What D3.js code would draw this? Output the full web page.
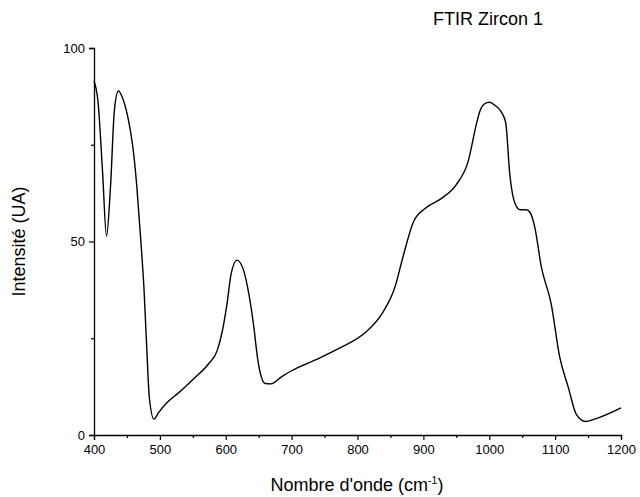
<!DOCTYPE html>
<html>
<head>
<meta charset="utf-8">
<script src="https://cdn.jsdelivr.net/npm/d3@7"></script>
<style>
  body { margin: 0; background: #fff; }
  svg text { font-family: "Liberation Sans", Arial, sans-serif; fill: #000; }
</style>
</head>
<body>
<div id="chart"></div>
<script>
// Spectre FTIR (nombre d'onde en cm-1, intensité en UA)
const wavenumbers = [400, 406, 413, 419, 425, 431, 437, 445, 454, 460, 465, 471, 476, 480, 484, 491, 498, 511, 529, 551, 574, 587, 595, 602, 608, 617, 627, 635, 642, 649, 655, 660, 668, 685, 700, 736, 771, 814, 837, 857, 869, 885, 903, 928, 950, 968, 981, 986, 993, 1000, 1010, 1019, 1025, 1031, 1039, 1047, 1056, 1062, 1069, 1079, 1094, 1107, 1120, 1132, 1146, 1160, 1200];
const intensities = [91.5, 86.3, 68, 51.4, 64, 84, 88.9, 86.3, 79.8, 73, 64.2, 50.4, 37.4, 22.7, 9.7, 4.1, 5.8, 8.4, 11, 14.5, 18.4, 21.8, 27, 34, 41.5, 45.2, 42.6, 36.5, 28.7, 19, 14.5, 13.3, 13.2, 15.1, 16.6, 19.4, 22.3, 26.8, 31.3, 38.3, 46, 55.1, 58.6, 61.2, 64.7, 70.7, 80.7, 83.8, 85.6, 86, 85, 83.3, 80.7, 67.7, 59.9, 58.2, 58.2, 57.5, 53.8, 43.5, 33.9, 20.1, 12.3, 5.4, 3.5, 4.1, 7];

const xMajorTicks = [400, 500, 600, 700, 800, 900, 1000, 1100, 1200];
const xMinorTicks = [450, 550, 650, 750, 850, 950, 1050, 1150];
const yMajorTicks = [0, 50, 100];
const yMinorTicks = [25, 75];

const width = 640;
const height = 497;
const margin = { top: 48, right: 19, bottom: 62, left: 94 };

const svg = d3.select("#chart")
    .append("svg")
    .attr("width", width)
    .attr("height", height);

const x = d3.scaleLinear()
    .domain([400, 1200])
    .range([margin.left, width - margin.right]);

const y = d3.scaleLinear()
    .domain([0, 100])
    .range([height - margin.bottom, margin.top]);

const data = wavenumbers.map((w, i) => ({ w, v: intensities[i] }));

// axes (majeures + mineures)
svg.append("g")
    .attr("transform", `translate(0, ${y(0)})`)
    .call(d3.axisBottom(x).tickValues(xMajorTicks).tickSize(5).tickPadding(5).tickFormat(d3.format("d")));
svg.append("g")
    .attr("transform", `translate(0, ${y(0)})`)
    .call(d3.axisBottom(x).tickValues(xMinorTicks).tickSize(3).tickFormat(""))
    .select(".domain").remove();

svg.append("g")
    .attr("transform", `translate(${x(400)}, 0)`)
    .call(d3.axisLeft(y).tickValues(yMajorTicks).tickSize(5).tickPadding(4));
svg.append("g")
    .attr("transform", `translate(${x(400)}, 0)`)
    .call(d3.axisLeft(y).tickValues(yMinorTicks).tickSize(3).tickFormat(""))
    .select(".domain").remove();

svg.selectAll(".domain").attr("stroke", "#000").attr("stroke-width", 1.3);
svg.selectAll(".tick line").attr("stroke", "#000").attr("stroke-width", 1.2);
svg.selectAll(".tick text").attr("font-size", "13px").attr("font-family", "Liberation Sans, Arial, sans-serif");

// spectre
const line = d3.line()
    .x(d => x(d.w))
    .y(d => y(d.v))
    .curve(d3.curveMonotoneX);

svg.append("path")
    .datum(data)
    .attr("fill", "none")
    .attr("stroke", "#000")
    .attr("stroke-width", 1.4)
    .attr("d", line);

// titres
svg.append("text")
    .attr("x", 488)
    .attr("y", 25)
    .attr("text-anchor", "middle")
    .attr("font-size", "18px")
    .text("FTIR Zircon 1");

const xLabel = svg.append("text")
    .attr("x", 357)
    .attr("y", 491)
    .attr("text-anchor", "middle")
    .attr("font-size", "18px");
xLabel.append("tspan").text("Nombre d'onde (cm");
xLabel.append("tspan").attr("dy", -7).attr("font-size", "10.5px").text("-1");
xLabel.append("tspan").attr("dy", 7).text(")");

svg.append("text")
    .attr("transform", `translate(25, ${(y(0) + y(100)) / 2}) rotate(-90)`)
    .attr("text-anchor", "middle")
    .attr("font-size", "18px")
    .text("Intensité (UA)");
</script>
</body>
</html>
